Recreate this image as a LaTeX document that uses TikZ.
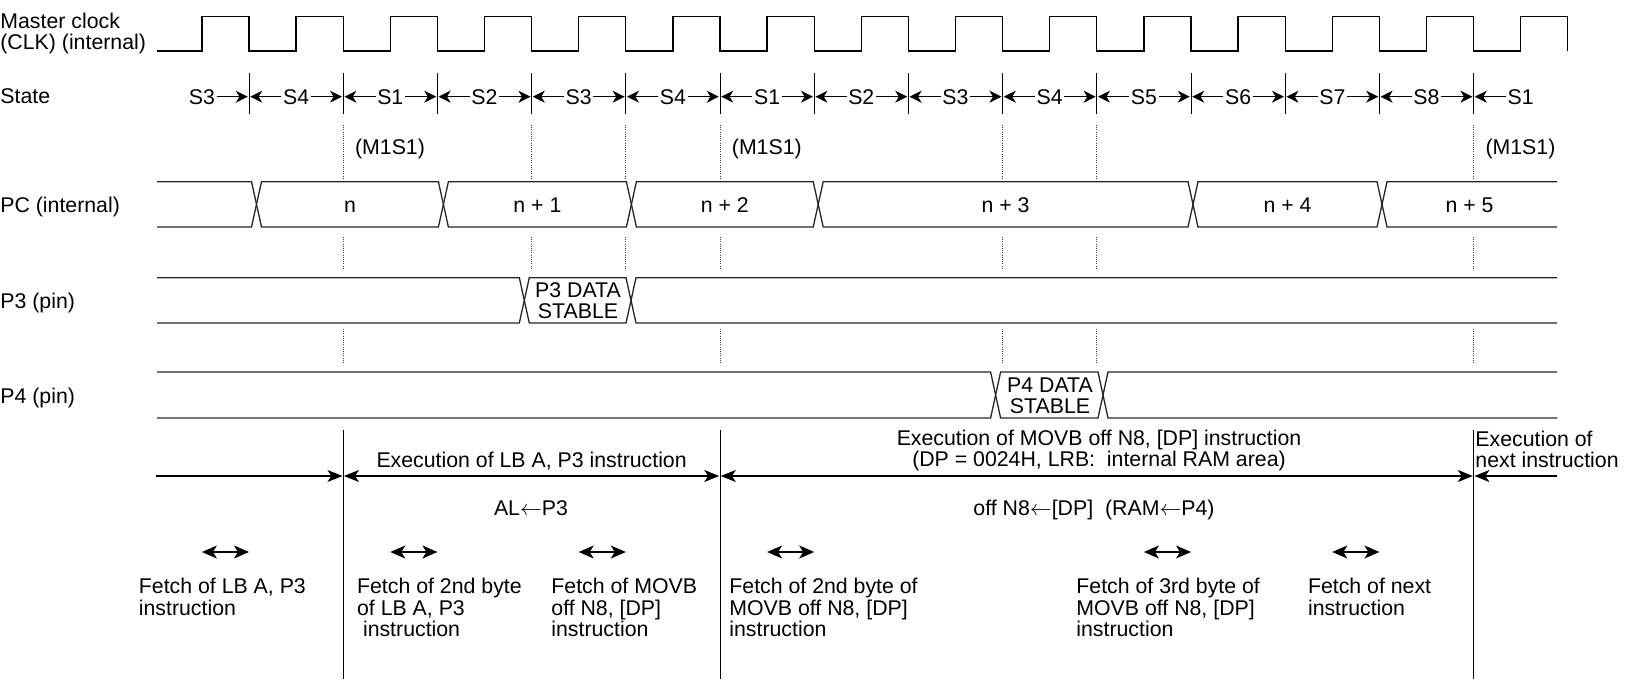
\documentclass[tikz,border=0pt]{standalone}
\usepackage{fontspec}
\setmainfont{Liberation Sans}
\usetikzlibrary{arrows.meta}
\tikzset{
    lab/.style={
        font=\fontsize{10.65}{10.65}\selectfont, inner sep=0pt
    }
}

\begin{document}
\begin{tikzpicture}[x=0.5pt,y=-0.5pt, line join=miter]

\tikzset{
  sig/.style={draw=black, line width=0.65pt},
  bus/.style={draw=black!85, line width=0.65pt},
  tick/.style={draw=black, line width=0.5pt},
  guide/.style={draw=black!75, line width=0.5pt, dash pattern=on 0.5pt off 0.6pt},
  starr/.style={line width=0.55pt, -{Stealth[length=6pt,width=6pt,inset=1.8pt]}, shorten >=0.6pt},
  exarr/.style={line width=0.6pt, -{Stealth[length=7.5pt,width=6pt,inset=2pt]}, shorten >=0.4pt},
  exdbl/.style={line width=0.6pt, {Stealth[length=7.5pt,width=6pt,inset=2pt]}-{Stealth[length=7.5pt,width=6pt,inset=2pt]}, shorten >=0.4pt, shorten <=0.4pt},
  fetcharr/.style={line width=0.6pt, {Stealth[length=7.5pt,width=6.5pt,inset=2pt]}-{Stealth[length=7.5pt,width=6.5pt,inset=2pt]}},
  txt/.style={lab, align=left, anchor=base west},
}

\useasboundingbox (0,0) rectangle (1641,679);

% clock edges
\foreach \k in {0,...,14} {
  \coordinate (f\k) at ({249+94.2*\k},0);
  \coordinate (r\k) at ({201.9+94.2*\k},0);
}

% levels
\coordinate (hi) at (0,16.7);
\coordinate (lo) at (0,51);
\coordinate (sttop) at (0,73);
\coordinate (stbot) at (0,114);
\coordinate (mrow) at (0,149);
\coordinate (g1a) at (0,125);
\coordinate (g1b) at (0,179);
\coordinate (g2a) at (0,237);
\coordinate (g2b) at (0,269);
\coordinate (g3a) at (0,329);
\coordinate (g3b) at (0,363);
\coordinate (extop) at (0,430);
\coordinate (exbot) at (0,679);
\coordinate (ftrow) at (0,552);
\coordinate (exl) at (156,476);
\coordinate (exr) at (1557,476);

% row labels (base = last line)
\node[txt] (lclk) at (0,50) {Master clock\\(CLK) (internal)};
\node[txt] (lstate) at (0,103.8) {State};
\node[txt] (lpc) at (0,212.5) {PC (internal)};
\node[txt] (lp3) at (0,308) {P3 (pin)};
\node[txt] (lp4) at (0,403) {P4 (pin)};

% master clock
\draw[sig] (157,51) foreach \k in {0,...,14} {
  -- (r\k |- lo) -- (r\k |- hi) -- (f\k |- hi) -- (f\k |- lo) };

% states
\foreach \k in {0,...,13}
  \draw[tick] (f\k |- sttop) -- (f\k |- stbot);
\foreach \s [count=\j from 0] in {S3,S4,S1,S2,S3,S4,S1,S2,S3,S4,S5,S6,S7,S8,S1}
  \node[lab, inner sep=0.6pt] (st\j) at ({201.9+94.2*\j},96.7) {\s};
\foreach \j [evaluate=\j as \i using int(\j-1)] in {1,...,14}
  \draw[starr] (st\j.west) -- (f\i |- st\j.west);
\foreach \j in {0,...,13}
  \draw[starr] (st\j.east) -- (f\j |- st\j.east);

% M1S1 marks
\foreach \k in {1,5,13}
  \node[lab, anchor=west, xshift=5.75pt] (m\k) at (f\k |- mrow) {(M1S1)};

% dotted guides
\foreach \k in {1,3,4,5,8,9,13} {
  \draw[guide] (f\k |- g1a) -- (f\k |- g1b);
  \draw[guide] (f\k |- g2a) -- (f\k |- g2b);
}
\foreach \k in {1,5,8,9,13}
  \draw[guide] (f\k |- g3a) -- (f\k |- g3b);

% PC (internal)
\draw[bus] (157,181.7) -- (251.5,181.7) -- (256.5,204.4) -- (251.5,227) -- (157,227);
\foreach \a/\b/\v [count=\i] in {256.5/443.4/n, 443.4/631.4/n + 1, 631.4/818.2/n + 2,
    818.2/1193/n + 3, 1193/1382/n + 4} {
  \draw[bus] (\a,204.4) -- (\a+5,181.7) -- (\b-5,181.7) -- (\b,204.4) -- (\b-5,227) -- (\a+5,227) -- cycle;
  \node[lab, anchor=base] (pc\i) at ({(\a+\b)/2},212.3) {\v};
}
\draw[bus] (1557,181.7) -- (1387,181.7) -- (1382,204.4) -- (1387,227) -- (1557,227);
\node[lab, anchor=base] (pc6) at (1469.5,212.3) {n + 5};

% P3 (pin)
\draw[bus] (157,277.7) -- (519.3,277.7) -- (524.3,300.4) -- (519.3,323) -- (157,323);
\draw[bus] (524.3,300.4) -- (529.3,277.7) -- (626,277.7) -- (631,300.4) -- (626,323) -- (529.3,323) -- cycle;
\draw[bus] (1557,277.7) -- (636,277.7) -- (631,300.4) -- (636,323) -- (1557,323);
\node[lab, align=center] (p3d) at (578,300.5) {P3 DATA\\STABLE};

% P4 (pin)
\draw[bus] (157,372) -- (990.6,372) -- (995.6,395) -- (990.6,418) -- (157,418);
\draw[bus] (995.6,395) -- (1000.6,372) -- (1098,372) -- (1103,395) -- (1098,418) -- (1000.6,418) -- cycle;
\draw[bus] (1557,372) -- (1108,372) -- (1103,395) -- (1108,418) -- (1557,418);
\node[lab, align=center] (p4d) at (1050,395.5) {P4 DATA\\STABLE};

% execution
\foreach \k in {1,5,13}
  \draw[tick] (f\k |- extop) -- (f\k |- exbot);
\draw[exarr] (exl) -- (f1 |- exl);
\draw[exdbl] (f1 |- exl) -- (f5 |- exl);
\draw[exdbl] (f5 |- exl) -- (f13 |- exl);
\draw[exarr] (exr) -- (f13 |- exr);

\node[lab, anchor=base] (exlb) at (531.6,467) {Execution of LB A, P3 instruction};
\node[lab, anchor=base, align=center] (exmv) at (1099,466.8) {Execution of MOVB off N8, [DP] instruction\\(DP = 0024H, LRB:\ \ internal RAM area)};
\node[txt] (exnx) at (1475,467.5) {Execution of\\next instruction};
\node[lab, anchor=base] (allb) at (531,515.3) {AL$\leftarrow$P3};
\node[lab, anchor=base] (almv) at (1094,515) {off N8$\leftarrow$[DP]\ \ (RAM$\leftarrow$P4)};

% fetches
\foreach \k in {0,2,4,6,10,12}
  \draw[fetcharr] (r\k |- ftrow) -- (f\k |- ftrow);

\node[txt] (ft1) at (138.5,615) {Fetch of LB A, P3\\instruction};
\node[txt] (ft2) at (356.7,636.3) {Fetch of 2nd byte\\of LB A, P3\\\ instruction};
\node[txt] (ft3) at (551,636.3) {Fetch of MOVB\\off N8, [DP]\\instruction};
\node[txt] (ft4) at (729,636.3) {Fetch of 2nd byte of\\MOVB off N8, [DP]\\instruction};
\node[txt] (ft5) at (1076,636.3) {Fetch of 3rd byte of\\MOVB off N8, [DP]\\instruction};
\node[txt] (ft6) at (1307.6,615) {Fetch of next\\instruction};

\end{tikzpicture}
\end{document}
